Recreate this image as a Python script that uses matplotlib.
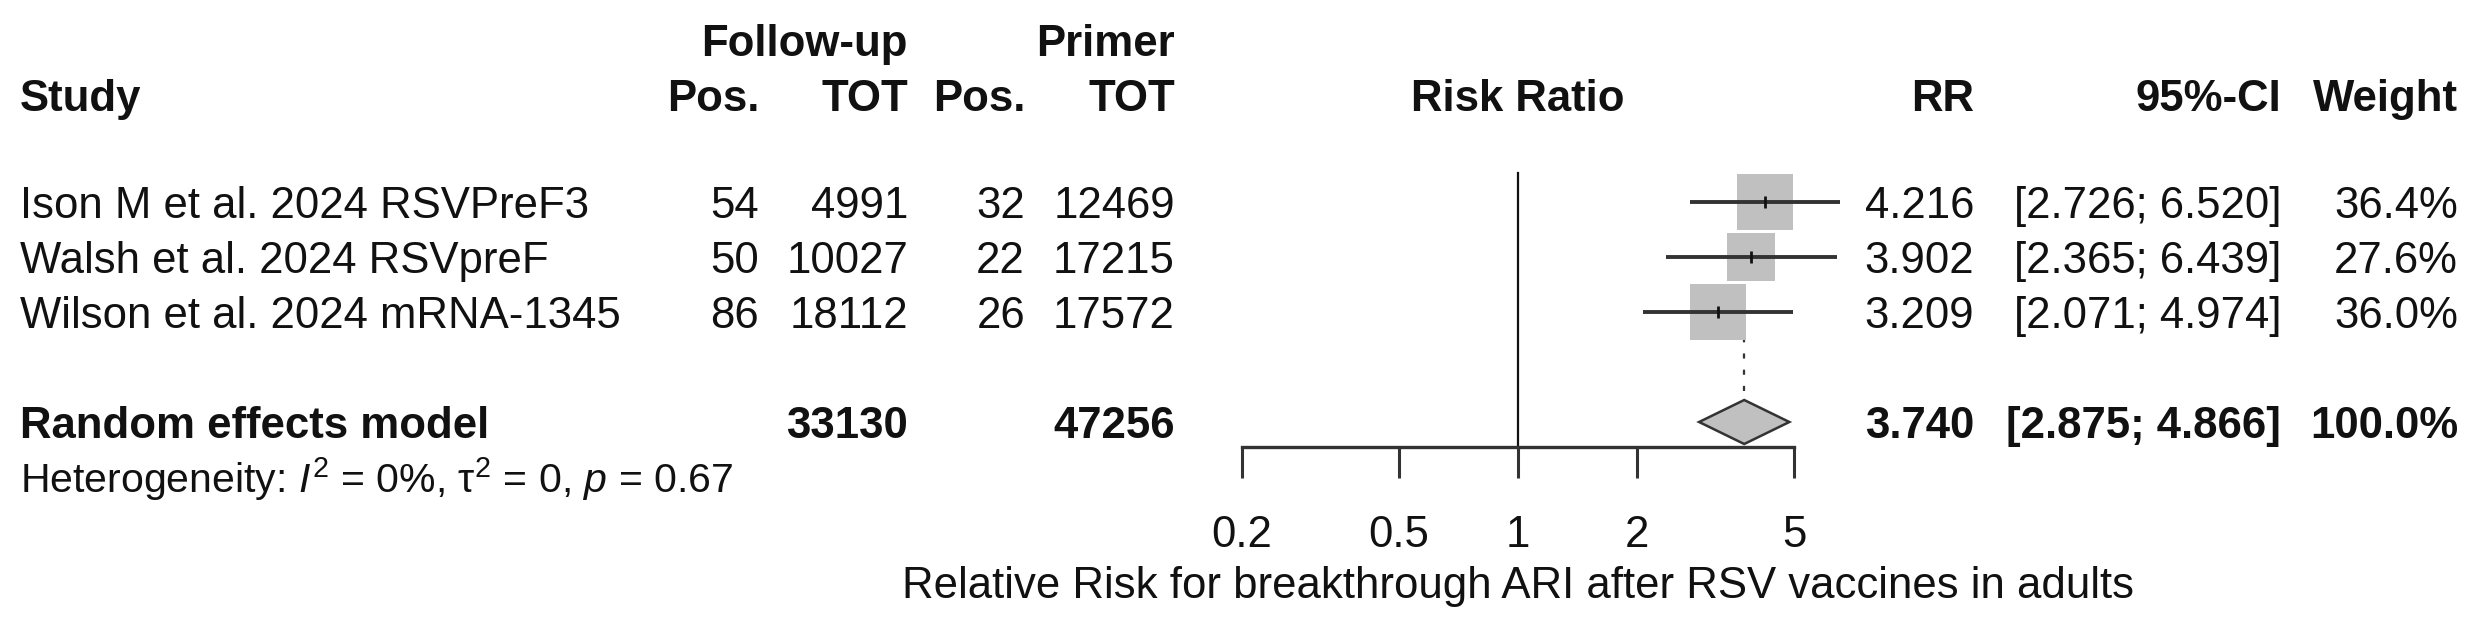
import matplotlib
matplotlib.use("Agg")
import matplotlib.pyplot as plt
import numpy as np
from matplotlib.transforms import blended_transform_factory
from matplotlib.ticker import NullLocator, FixedLocator, FixedFormatter

plt.rcParams["font.family"] = ["Liberation Sans", "DejaVu Sans"]
plt.rcParams["mathtext.fontset"] = "custom"
plt.rcParams["mathtext.rm"] = "Liberation Sans"
plt.rcParams["mathtext.it"] = "Liberation Sans:italic"
plt.rcParams["mathtext.bf"] = "Liberation Sans:bold"

# study data
studies = ["Ison M et al. 2024 RSVPreF3", "Walsh et al. 2024 RSVpreF",
           "Wilson et al. 2024 mRNA-1345"]
fu_pos = [54, 50, 86]
fu_tot = [4991, 10027, 18112]
pr_pos = [32, 22, 26]
pr_tot = [12469, 17215, 17572]
rr = [4.216, 3.902, 3.209]
ci_lo = [2.726, 2.365, 2.071]
ci_hi = [6.520, 6.439, 4.974]
weight = [36.4, 27.6, 36.0]

# pooled random effects result
pooled_rr = 3.740
pooled_lo = 2.875
pooled_hi = 4.866
fu_total = 33130
pr_total = 47256
het_text = r"Heterogeneity: $I^2$ = 0%, τ$^2$ = 0, $p$ = 0.67"

xticks = [0.2, 0.5, 1, 2, 5]
xlabel = "Relative Risk for breakthrough ARI after RSV vaccines in adults"

W, H = 2477, 628
FS = 31.5
TXT = "#111111"
LINE = "#333333"
FILL = "#c0c0c0"
ROW = 55.0      # pixels per row
ROW0 = 202.0    # pixel y of first study row
AXIS_Y = 447.0  # pixel y of the x axis line
LEFT = 20       # pixel x of left text column

fig = plt.figure(figsize=(W / 100, H / 100), dpi=100)
x0, x1 = 1242, 1794
ax = fig.add_axes([x0 / W, 1 - AXIS_Y / H, (x1 - x0) / W, AXIS_Y / H])
ax.set_xscale("log")
ax.set_xlim(0.2, 5)
ax.set_ylim((AXIS_Y - ROW0) / ROW, -ROW0 / ROW)
for s in ["top", "right", "left"]:
    ax.spines[s].set_visible(False)
ax.spines["bottom"].set_linewidth(2.4)
ax.spines["bottom"].set_color(LINE)
ax.patch.set_visible(False)
ax.set_yticks([])
ax.xaxis.set_major_locator(FixedLocator(xticks))
ax.xaxis.set_major_formatter(FixedFormatter([f"{t:g}" for t in xticks]))
ax.xaxis.set_minor_locator(NullLocator())
ax.tick_params(axis="x", length=22, width=2.2, color=LINE, pad=27,
               labelsize=FS, labelcolor=TXT)
ax.set_xlabel(xlabel, fontsize=FS, color=TXT, labelpad=7)

rows = np.arange(len(studies))
pooled_row = len(studies) + 1

# reference line at 1 and dashed line for pooled estimate
ax.plot([1, 1], [-0.53, ax.get_ylim()[0]], color=TXT, lw=1.6, clip_on=False)
ax.plot([pooled_rr, pooled_rr], [-0.5, pooled_row - 0.4], color=LINE, lw=1.6,
        dashes=[2.3, 5.0], clip_on=False, zorder=1)

# squares sized by weight, CI lines, estimate ticks
for r, est, lo, hi, w in zip(rows, rr, ci_lo, ci_hi, weight):
    ax.plot([est], [r], marker="s", markersize=6.68 * np.sqrt(w),
            color=FILL, markeredgewidth=0, clip_on=False, zorder=2)
    ax.plot([lo, hi], [r, r], color=LINE, lw=2.8, clip_on=False, zorder=3,
            solid_capstyle="butt")
    ax.plot([est], [r], marker="|", markersize=9, markeredgewidth=2.0,
            color=TXT, clip_on=False, zorder=4)

# pooled diamond
dh = 0.4
ax.fill([pooled_lo, pooled_rr, pooled_hi, pooled_rr],
        [pooled_row, pooled_row - dh, pooled_row, pooled_row + dh],
        facecolor=FILL, edgecolor=LINE, lw=1.8, clip_on=False, zorder=3)

tr = blended_transform_factory(fig.transFigure, ax.transData)
BL = 0.29  # baseline offset from row centre, in rows


def put(px, row, s, ha="right", bold=False, size=FS):
    ax.text(px / W, row + BL, s, transform=tr, ha=ha, va="baseline",
            fontsize=size, color=TXT, fontweight="bold" if bold else "normal")


# headers
put(908, -2.95, "Follow-up", bold=True)
put(1175, -2.95, "Primer", bold=True)
put(LEFT, -1.95, "Study", ha="left", bold=True)
put(759, -1.95, "Pos.", bold=True)
put(908, -1.95, "TOT", bold=True)
put(1025, -1.95, "Pos.", bold=True)
put(1175, -1.95, "TOT", bold=True)
put(1518, -1.95, "Risk Ratio", ha="center", bold=True)
put(1974, -1.95, "RR", bold=True)
put(2281, -1.95, "95%-CI", bold=True)
put(2458, -1.95, "Weight", bold=True)

# study rows
for r, name, a, b, c, d, est, lo, hi, w in zip(rows, studies, fu_pos, fu_tot,
                                               pr_pos, pr_tot, rr, ci_lo, ci_hi, weight):
    put(LEFT, r, name, ha="left")
    put(759, r, str(a))
    put(908, r, str(b))
    put(1025, r, str(c))
    put(1175, r, str(d))
    put(1974, r, f"{est:.3f}")
    put(2281, r, f"[{lo:.3f}; {hi:.3f}]")
    put(2458, r, f"{w:.1f}%")

# pooled row
put(LEFT, pooled_row, "Random effects model", ha="left", bold=True)
put(908, pooled_row, str(fu_total), bold=True)
put(1175, pooled_row, str(pr_total), bold=True)
put(1974, pooled_row, f"{pooled_rr:.3f}", bold=True)
put(2281, pooled_row, f"[{pooled_lo:.3f}; {pooled_hi:.3f}]", bold=True)
put(2458, pooled_row, f"{sum(weight):.1f}%", bold=True)
put(LEFT, pooled_row + 1, het_text, ha="left", size=29.5)

fig.savefig("out.png", dpi=100, facecolor="white")
